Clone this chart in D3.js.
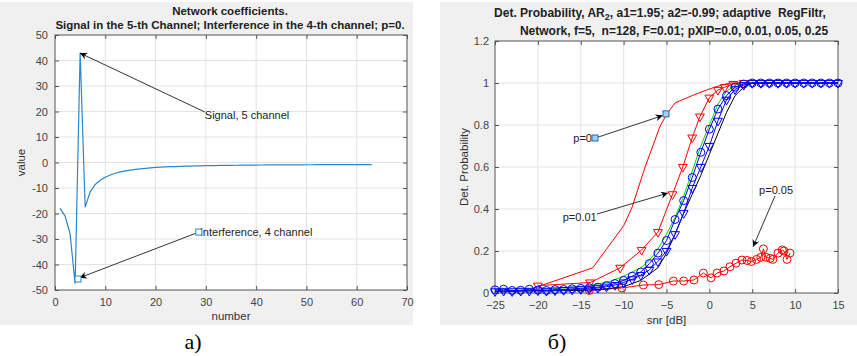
<!DOCTYPE html>
<html>
<head>
<meta charset="utf-8">
<script src="https://cdn.jsdelivr.net/npm/d3@7"></script>
<style>
  body { margin: 0; background: #fff; }
  svg { display: block; font-family: "Liberation Sans", Arial, sans-serif; }
</style>
</head>
<body>
<svg id="chart" width="857" height="356"></svg>
<script>
// ---- left panel: network coefficients (index 1..63) ----
const coefNumber = d3.range(1, 64);
const coefValue = [
  -18, -21, -28, -47.5, 43, -17.5, -11.5, -8.6, -7, -5.8,
  -4.9, -4.2, -3.7, -3.3, -3.0, -2.7, -2.5, -2.3, -2.1, -1.95,
  -1.85, -1.75, -1.65, -1.58, -1.5, -1.45, -1.4, -1.35, -1.3, -1.26,
  -1.22, -1.19, -1.16, -1.13, -1.1, -1.08, -1.06, -1.04, -1.02, -1.0,
  -0.99, -0.97, -0.96, -0.95, -0.94, -0.93, -0.92, -0.91, -0.9, -0.89,
  -0.88, -0.87, -0.86, -0.86, -0.85, -0.84, -0.84, -0.83, -0.82, -0.82,
  -0.81, -0.81, -0.8
];
const leftXTicks = [0, 10, 20, 30, 40, 50, 60, 70];
const leftYTicks = [-50, -40, -30, -20, -10, 0, 10, 20, 30, 40, 50];

// ---- right panel: detection probability vs snr ----
const snrGrid = d3.range(-25, 16);
const blueCircY = [
  0.015, 0.018, 0.012, 0.013, 0.018, 0.014, 0.012, 0.016, 0.017, 0.02,
  0.022, 0.025, 0.028, 0.035, 0.045, 0.06, 0.08, 0.1, 0.14, 0.19,
  0.25, 0.35, 0.44, 0.55, 0.67, 0.78, 0.876, 0.94, 0.98, 0.995,
  1, 1, 1, 1, 1, 1, 1, 1, 1, 1, 1
];
const blueTriY = [
  0.008, 0.01, 0.008, 0.01, 0.01, 0.012, 0.01, 0.012, 0.014, 0.016,
  0.018, 0.02, 0.024, 0.03, 0.038, 0.05, 0.065, 0.085, 0.11, 0.15,
  0.2, 0.28, 0.38, 0.5, 0.6, 0.7, 0.82, 0.92, 0.97, 0.99,
  1, 1, 1, 1, 1, 1, 1, 1, 1, 1, 1
];
const blackX = [-25, -20, -15, -12, -10, -8, -6, -5, -4, -3, -2, -1, 0, 1, 2, 3, 4, 5, 15];
const blackY = [0.008, 0.01, 0.012, 0.02, 0.03, 0.06, 0.12, 0.19, 0.28, 0.38, 0.47, 0.56, 0.66, 0.76, 0.86, 0.94, 0.98, 1, 1];
const greenX = [-25, -20, -15, -12, -11, -10, -8, -7, -6, -5, -4, -3, -2, -1, 0, 1, 2, 3, 4, 15];
const greenY = [0.01, 0.015, 0.03, 0.05, 0.065, 0.08, 0.12, 0.155, 0.21, 0.28, 0.36, 0.46, 0.58, 0.7, 0.8, 0.9, 0.96, 0.99, 1, 1];
const redPlainX = [-20, -13.6, -10, -9, -7.5, -6.5, -5.8, -5, -4, -2, -0.3, 1, 2.4, 5, 10, 15];
const redPlainY = [0.03, 0.12, 0.32, 0.41, 0.6, 0.71, 0.79, 0.85, 0.905, 0.94, 0.967, 0.985, 1, 1, 1, 1];
const redTriX = [-20, -13.9, -10.4, -7.9, -6, -4.3, -3.1, -2, -1.1, 0, 1, 1.8, 2.8, 4, 5, 6, 7, 8, 9];
const redTriY = [0.035, 0.05, 0.12, 0.205, 0.29, 0.47, 0.6, 0.74, 0.84, 0.93, 0.967, 0.98, 0.995, 1, 1, 1, 1, 1, 1];
const redCircX = [-14, -10.2, -7.7, -5.9, -4.2, -3, -1.8, -0.7, 0.2, 0.9, 1.7, 2.4, 3.1, 3.8, 4.4, 4.9,
  5.5, 6.0, 6.3, 6.6, 7.1, 7.4, 8.0, 8.5, 8.7, 9.05, 9.4];
const redCircY = [0.012, 0.024, 0.038, 0.04, 0.057, 0.057, 0.062, 0.095, 0.072, 0.095, 0.105, 0.125, 0.142, 0.157, 0.155, 0.15,
  0.16, 0.17, 0.21, 0.17, 0.165, 0.16, 0.19, 0.205, 0.2, 0.16, 0.19];
const rightXTicks = [-25, -20, -15, -10, -5, 0, 5, 10, 15];
const rightYTicks = [0, 0.2, 0.4, 0.6, 0.8, 1, 1.2];
const rightYLabels = ["0", "0.2", "0.4", "0.6", "0.8", "1", "1.2"];

const svg = d3.select("#chart");

// arrowhead marker
svg.append("defs").append("marker")
  .attr("id", "head")
  .attr("viewBox", "0 0 10 10")
  .attr("refX", 10).attr("refY", 5)
  .attr("markerWidth", 10).attr("markerHeight", 7)
  .attr("markerUnits", "userSpaceOnUse")
  .attr("orient", "auto")
  .append("path").attr("d", "M0,0 L10,5 L0,10 L3,5 Z").attr("fill", "#000");

// figure backgrounds
svg.append("rect").attr("x", 0).attr("y", 2).attr("width", 413).attr("height", 323).attr("fill", "#f0f0f0");
svg.append("rect").attr("x", 440).attr("y", 2).attr("width", 417).attr("height", 323).attr("fill", "#f0f0f0");

/**
 * Draws a MATLAB-like axes box: white area, grid, inward ticks on all sides.
 */
function drawFrame(g, x, y, xTicks, yTicks, yFormat, pads) {
  const [x0, x1] = x.range();
  const [y0, y1] = y.range();

  g.append("rect")
    .attr("x", x0).attr("y", y1)
    .attr("width", x1 - x0).attr("height", y0 - y1)
    .attr("fill", "#fff");

  g.selectAll(null).data(xTicks.slice(1, -1)).join("line")
    .attr("x1", d => x(d)).attr("x2", d => x(d))
    .attr("y1", y1).attr("y2", y0)
    .attr("stroke", "#e3e3e3");

  g.selectAll(null).data(yTicks.slice(1, -1)).join("line")
    .attr("x1", x0).attr("x2", x1)
    .attr("y1", d => y(d)).attr("y2", d => y(d))
    .attr("stroke", "#e3e3e3");

  const style = sel => {
    sel.select(".domain").remove();
    sel.selectAll(".tick line").attr("stroke", "#555");
    sel.selectAll(".tick text").attr("fill", "#444").style("font-size", "11px")
      .style("font-family", "'Liberation Sans', Arial, sans-serif");
  };

  g.append("g").attr("transform", `translate(0,${y0})`)
    .call(d3.axisBottom(x).tickValues(xTicks).tickSizeInner(-4).tickSizeOuter(0).tickPadding(pads[0]))
    .call(style);
  g.append("g").attr("transform", `translate(0,${y1})`)
    .call(d3.axisTop(x).tickValues(xTicks).tickFormat("").tickSizeInner(-4).tickSizeOuter(0))
    .call(style);
  g.append("g").attr("transform", `translate(${x0},0)`)
    .call(d3.axisLeft(y).tickValues(yTicks).tickFormat(yFormat).tickSizeInner(-4).tickSizeOuter(0).tickPadding(pads[1]))
    .call(style);
  g.append("g").attr("transform", `translate(${x1},0)`)
    .call(d3.axisRight(y).tickValues(yTicks).tickFormat("").tickSizeInner(-4).tickSizeOuter(0))
    .call(style);

  g.append("rect")
    .attr("x", x0).attr("y", y1)
    .attr("width", x1 - x0).attr("height", y0 - y1)
    .attr("fill", "none").attr("stroke", "#555");
}

function arrow(g, xa, ya, xb, yb) {
  g.append("line")
    .attr("x1", xa).attr("y1", ya).attr("x2", xb).attr("y2", yb)
    .attr("stroke", "#333").attr("stroke-width", 1)
    .attr("marker-end", "url(#head)");
}

// ================= LEFT PANEL =================
const xL = d3.scaleLinear().domain([0, 70]).range([55, 407]);
const yL = d3.scaleLinear().domain([-50, 50]).range([290, 35]);
const gL = svg.append("g");

drawFrame(gL, xL, yL, leftXTicks, leftYTicks, d => d, [8, 7]);

gL.append("path")
  .datum(coefNumber.map((n, i) => [n, coefValue[i]]))
  .attr("fill", "none")
  .attr("stroke", "#2a86d0")
  .attr("stroke-width", 1.2)
  .attr("d", d3.line().x(d => xL(d[0])).y(d => yL(d[1])));

gL.append("text").attr("x", 230).attr("y", 15).attr("text-anchor", "middle")
  .style("font-size", "11.5px").style("font-weight", "bold").attr("fill", "#222")
  .text("Network coefficients.");
gL.append("text").attr("x", 230).attr("y", 29).attr("text-anchor", "middle")
  .style("font-size", "11.5px").style("font-weight", "bold").attr("fill", "#222")
  .text("Signal in the 5-th Channel; Interference in the 4-th channel; p=0.");

gL.append("text").attr("transform", `translate(25,${(35 + 290) / 2}) rotate(-90)`)
  .attr("text-anchor", "middle").style("font-size", "11.5px").attr("fill", "#333").text("value");
gL.append("text").attr("x", (55 + 407) / 2).attr("y", 320)
  .attr("text-anchor", "middle").style("font-size", "11.5px").attr("fill", "#333").text("number");

// annotations
arrow(gL, xL(29.8), yL(19.8), xL(4.97), yL(42.9));
gL.append("text").attr("x", xL(29.8)).attr("y", yL(18.6) + 4)
  .style("font-size", "11px").attr("fill", "#222").text("Signal, 5 channel");

arrow(gL, xL(28.6), yL(-27.3), xL(4.9), yL(-45.2));
gL.append("text").attr("x", xL(28.6) + 1).attr("y", yL(-27.3) + 4)
  .style("font-size", "11px").attr("fill", "#222").text("Interference, 4 channel");
[[28.6, -27.3], [4.57, -45.7]].forEach(p => {
  gL.append("rect").attr("x", xL(p[0]) - 3).attr("y", yL(p[1]) - 3)
    .attr("width", 6).attr("height", 6)
    .attr("fill", "#fff").attr("stroke", "#2a86d0").attr("stroke-width", 1);
});

// ================= RIGHT PANEL =================
const xR = d3.scaleLinear().domain([-25, 15]).range([495, 838]);
const yR = d3.scaleLinear().domain([0, 1.2]).range([293, 41]);
const gR = svg.append("g");

drawFrame(gR, xR, yR, rightXTicks, rightYTicks, (d, i) => rightYLabels[i], [8, 6]);

const lineR = d3.line().x(d => xR(d[0])).y(d => yR(d[1]));
const zip = (xs, ys) => xs.map((v, i) => [v, ys[i]]);

function series(pts, color, marker) {
  gR.append("path").datum(pts)
    .attr("fill", "none").attr("stroke", color).attr("stroke-width", 1)
    .attr("d", lineR);
  if (marker === "circle") {
    gR.selectAll(null).data(pts).join("circle")
      .attr("cx", d => xR(d[0])).attr("cy", d => yR(d[1])).attr("r", 4)
      .attr("fill", "none").attr("stroke", color).attr("stroke-width", 1);
  } else if (marker === "tri") {
    gR.selectAll(null).data(pts).join("path")
      .attr("d", d3.symbol(d3.symbolTriangle, 34))
      .attr("transform", d => `translate(${xR(d[0])},${yR(d[1])}) rotate(180)`)
      .attr("fill", "none").attr("stroke", color).attr("stroke-width", 1);
  }
}

series(zip(redPlainX, redPlainY), "#ff0000", null);
series(zip(redTriX, redTriY), "#ff0000", "tri");
series(zip(redCircX, redCircY), "#ff0000", "circle");
series(zip(greenX, greenY), "#00dd00", null);
series(zip(blackX, blackY), "#000000", null);
series(zip(snrGrid, blueTriY), "#0000ff", "tri");
series(zip(snrGrid, blueCircY), "#0000ff", "circle");

// titles
const t1 = gR.append("text").attr("x", 660).attr("y", 17).attr("text-anchor", "middle")
  .style("font-size", "12px").style("font-weight", "bold").attr("fill", "#222");
t1.append("tspan").text("Det. Probability, AR");
t1.append("tspan").attr("dy", 3).style("font-size", "9px").text("2");
t1.append("tspan").attr("dy", -3).text(", a1=1.95; a2=-0.99; adaptive\u00a0 RegFiltr,");
gR.append("text").attr("x", 674).attr("y", 35).attr("text-anchor", "middle")
  .style("font-size", "12px").style("font-weight", "bold").attr("fill", "#222")
  .text("Network, f=5,\u00a0 n=128, F=0.01; pXIP=0.0, 0.01, 0.05, 0.25");

gR.append("text").attr("transform", `translate(468,${(41 + 293) / 2}) rotate(-90)`)
  .attr("text-anchor", "middle").style("font-size", "11.5px").attr("fill", "#333").text("Det. Probability");
gR.append("text").attr("x", (495 + 838) / 2).attr("y", 324)
  .attr("text-anchor", "middle").style("font-size", "11.5px").attr("fill", "#333").text("snr [dB]");

// annotations
arrow(gR, xR(-13.0), yR(0.742), xR(-5.45), yR(0.845));
gR.append("text").attr("x", xR(-13.34) - 3).attr("y", yR(0.738) + 4).attr("text-anchor", "end")
  .style("font-size", "11px").attr("fill", "#222").text("p=0");
[[-13.34, 0.738], [-5.06, 0.853]].forEach(p => {
  gR.append("rect").attr("x", xR(p[0]) - 3).attr("y", yR(p[1]) - 3)
    .attr("width", 6).attr("height", 6)
    .attr("fill", "#9fd0f5").attr("stroke", "#1a6fc0").attr("stroke-width", 1);
});

arrow(gR, xR(-13.1), yR(0.376), xR(-4.83), yR(0.476));
gR.append("text").attr("x", xR(-17.1)).attr("y", yR(0.362) + 4)
  .style("font-size", "11px").attr("fill", "#222").text("p=0.01");

arrow(gR, xR(7.65), yR(0.462), xR(5.1), yR(0.22));
gR.append("text").attr("x", xR(5.8)).attr("y", yR(0.49) + 4)
  .style("font-size", "11px").attr("fill", "#222").text("p=0.05");

// ---- panel captions ----
svg.append("text").attr("x", 193).attr("y", 349).attr("text-anchor", "middle")
  .style("font-family", "'Liberation Serif', 'DejaVu Serif', serif").style("font-size", "22px")
  .attr("fill", "#000").text("а)");
svg.append("text").attr("x", 557).attr("y", 349).attr("text-anchor", "middle")
  .style("font-family", "'Liberation Serif', 'DejaVu Serif', serif").style("font-size", "22px")
  .attr("fill", "#000").text("б)");
</script>
</body>
</html>
